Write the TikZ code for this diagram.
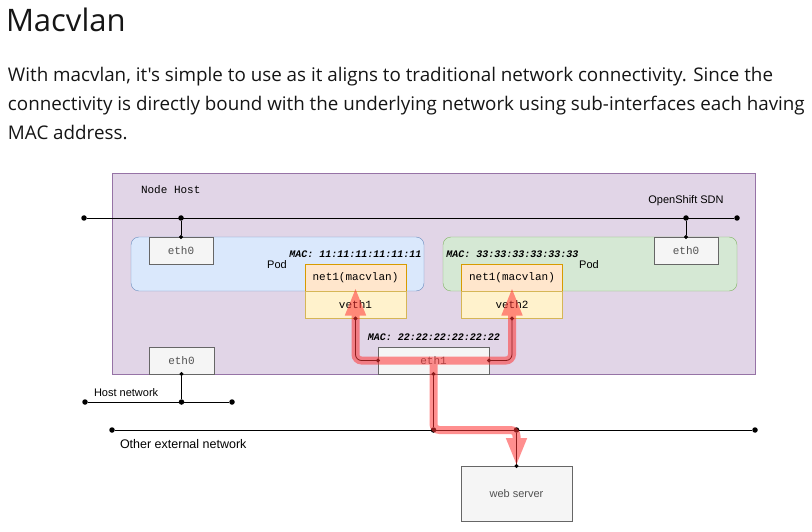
\documentclass[tikz,border=0pt]{standalone}
\usepackage{fontspec}
\setmainfont{Open Sans}[Ligatures=TeXOff]
\newfontfamily\diagmono{Liberation Mono}
\newfontfamily\diagsans{Liberation Sans}
\usetikzlibrary{arrows.meta}

\definecolor{hostfill}{HTML}{E1D5E7}
\definecolor{hostline}{HTML}{9673A6}
\definecolor{podafill}{HTML}{DAE8FC}
\definecolor{podaline}{HTML}{6C8EBF}
\definecolor{podbfill}{HTML}{D5E8D4}
\definecolor{podbline}{HTML}{82B366}
\definecolor{netfill}{HTML}{FFE6CC}
\definecolor{netline}{HTML}{D79B00}
\definecolor{vethfill}{HTML}{FFF2CC}
\definecolor{vethline}{HTML}{D6B656}
\definecolor{iffill}{HTML}{F5F5F5}
\definecolor{ifline}{HTML}{666666}
\definecolor{hlred}{HTML}{FF3333}
\definecolor{bodytext}{HTML}{151515}

\begin{document}
\begin{tikzpicture}[x=1pt, y=-1pt,
  every node/.style={inner sep=0pt, outer sep=0pt},
  dot/.style={circle, fill=black, minimum size=5.5pt},
  area/.style={draw=#1line, fill=#1fill, rounded corners=8pt},
  iface/.style={draw=ifline, fill=iffill, text=ifline!80!black, font=\diagmono\fontsize{11}{11}\selectfont, minimum height=27pt},
  vbox/.style={draw=#1line, fill=#1fill, font=\diagmono\fontsize{11}{11}\selectfont, minimum width=101pt, minimum height=27pt},
  lbl/.style={font=\diagsans\fontsize{11}{11}\selectfont},
  mac/.style={font=\diagmono\bfseries\itshape\fontsize{10}{10}\selectfont},
  link/.style={thick, {Circle[length=4pt]}-{Circle[length=4pt]}, shorten <=-2pt, shorten >=-2pt},
  bus/.style={thick},
  hl/.style={line width=8pt, draw=hlred, rounded corners=6pt, -{Triangle[length=28pt, width=19pt]}},
  body/.style={anchor=base west, text=bodytext, font=\fontsize{18.8}{18.8}\selectfont}]
  \useasboundingbox (0,0) rectangle (812,532);

  % heading and text
  \node [anchor=base west, text=bodytext, font=\fontsize{31}{31}\selectfont] (title) at (6,32) {Macvlan};
  \node [body] (line1) at (8,82) {With macvlan, it's simple to use as it aligns to traditional network connectivity. Since the};
  \node [body] (line2) at (8,111) {connectivity is directly bound with the underlying network using sub-interfaces each having};
  \node [body] (line3) at (8,140) {MAC address.};

  % node host
  \node [draw=hostline, fill=hostfill, minimum width=643pt, minimum height=201pt] (host) at (433.5,273.5) {};
  \node [anchor=west, font=\diagmono\fontsize{11}{11}\selectfont] (hostname) at (141,190) {Node Host};
  \node [area=poda, minimum width=293pt, minimum height=54pt] (poda) at (277.5,264) {};
  \node [area=podb, minimum width=294pt, minimum height=54pt] (podb) at (590,264) {};
  \node [lbl] (podalbl) at (277,265) {Pod};
  \node [lbl] (podblbl) at (589,265) {Pod};
  \node [iface, minimum width=64pt] (etha) at (181,250.5) {eth0};
  \node [iface, minimum width=64pt] (ethb) at (686,250.5) {eth0};
  \node [vbox=net] (neta) at (355.5,278) {net1(macvlan)};
  \node [vbox=veth, anchor=north] (veth1) at (neta.south) {veth1};
  \node [vbox=net] (netb) at (512,278) {net1(macvlan)};
  \node [vbox=veth, anchor=north] (veth2) at (netb.south) {veth2};
  \node [mac] (maca) at (355.5,254) {MAC: 11:11:11:11:11:11};
  \node [mac] (macb) at (512.5,254) {MAC: 33:33:33:33:33:33};
  \node [mac] (macc) at (434,337) {MAC: 22:22:22:22:22:22};
  \node [iface, minimum width=111pt] (eth1) at (433.5,360.5) {eth1};
  \node [iface, minimum width=65pt] (ethh) at (181.5,360.5) {eth0};

  % networks
  \node [dot] (sdnL) at (84,218) {};
  \node [dot] (sdnA) at (181,218) {};
  \node [dot] (sdnB) at (686,218) {};
  \node [dot] (sdnR) at (737,218) {};
  \node [lbl] (sdnlbl) at (686,201) {OpenShift SDN};
  \node [dot] (hnetL) at (85,402) {};
  \node [dot] (hnetA) at (181.5,402) {};
  \node [dot] (hnetR) at (232,402) {};
  \node [lbl, anchor=west] (hnetlbl) at (94,393) {Host network};
  \node [dot] (extL) at (112,430) {};
  \node [dot] (extA) at (433.5,430) {};
  \node [dot] (extB) at (516.5,430) {};
  \node [dot] (extR) at (755,430) {};
  \node [lbl, anchor=west, font=\diagsans\fontsize{12.5}{12.5}\selectfont] (extlbl) at (120,444) {Other external network};
  \node [draw=ifline, fill=iffill, text=ifline!80!black, lbl, minimum width=111pt, minimum height=55pt] (websrv) at (516.5,493.5) {web server};

  \draw [bus] (sdnL) -- (sdnR);
  \draw [bus] (hnetL) -- (hnetR);
  \draw [bus] (extL) -- (extR);
  \draw [bus, -{Circle[length=4pt]}, shorten >=-2pt] (sdnA) -- (etha);
  \draw [bus, -{Circle[length=4pt]}, shorten >=-2pt] (sdnB) -- (ethb);
  \draw [bus, {Circle[length=4pt]}-, shorten <=-2pt] (ethh) -- (hnetA);
  \draw [link, rounded corners=6pt] (eth1.west) -| (veth1.south);
  \draw [link, rounded corners=6pt] (eth1.east) -| (veth2.south);
  \draw [bus, {Circle[length=4pt]}-, shorten <=-2pt] (eth1) -- (extA);
  \draw [bus, -{Circle[length=4pt]}, shorten >=-2pt] (extB) -- (websrv);

  % traffic
  \begin{scope}[transparency group, opacity=.55]
    \draw [hl] (eth1.center) -| ([yshift=4pt]veth1.north);
    \draw [hl] (eth1.center) -| ([yshift=4pt]veth2.north);
    \draw [hl] (eth1.center) |- (extB.center) -- (websrv.north);
  \end{scope}
\end{tikzpicture}
\end{document}
